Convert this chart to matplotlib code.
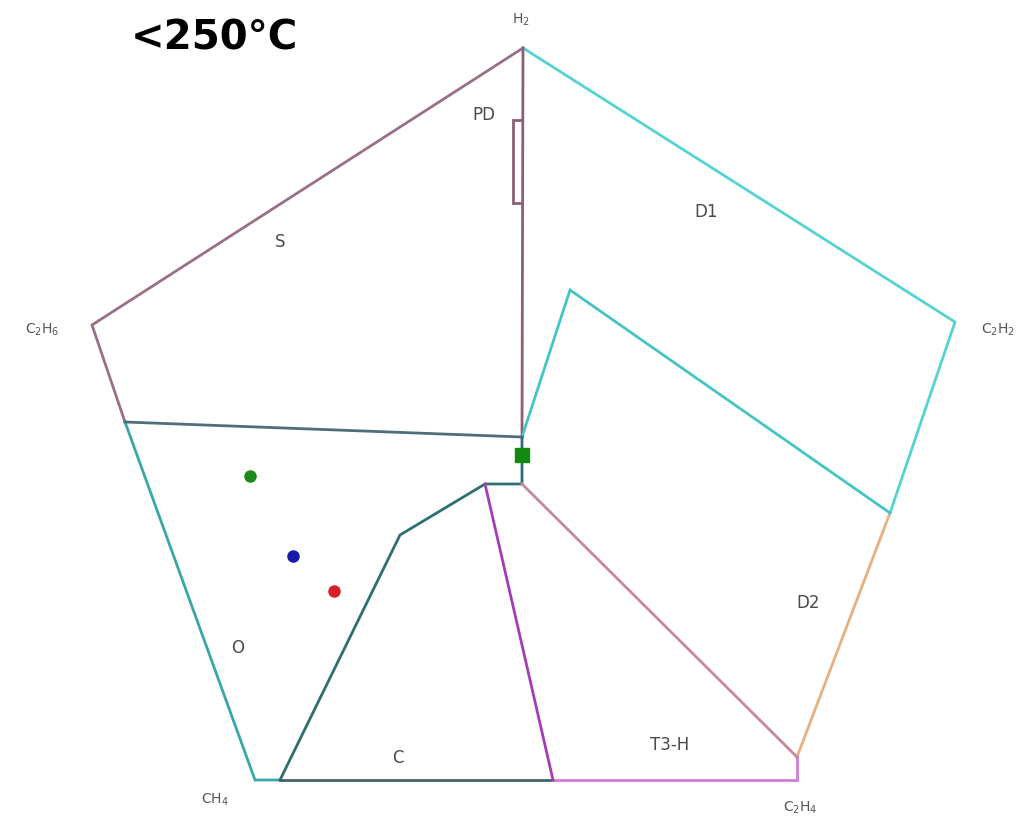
import matplotlib.pyplot as plt

# pixel coordinates (x right, y down)
H2 = (523, 48)
C2H6 = (92, 325)
C2H2 = (955, 322)
CH4 = (255, 780)
C2H4 = (797, 780)

left_mid = (125, 422)      # S / O boundary on left edge
right_mid = (890, 513)     # D1 / D2 boundary on right edge
d2_corner = (797, 757)
center_top = (522, 437)
center_bot = (522, 484)
c_knee1 = (485, 484)
c_knee2 = (400, 535)
c_base = (280, 780)
t3_base = (553, 780)
d1_peak = (570, 290)

# (points, colour)
segments = [
    ([H2, C2H6, left_mid], "#9a7088"),
    ([H2, C2H2, right_mid], "#55d3d3"),
    ([right_mid, d2_corner], "#e8b080"),
    ([left_mid, CH4, c_base], "#3aa7a7"),
    ([c_base, t3_base], "#44606a"),
    ([t3_base, C2H4, d2_corner], "#d27ad6"),
    ([H2, center_top], "#8a6078"),
    ([left_mid, center_top], "#4e6e7a"),
    ([center_top, d1_peak, right_mid], "#45c4c4"),
    ([center_top, center_bot, c_knee1, c_knee2, c_base], "#2f6e70"),
    ([c_knee1, t3_base], "#a43cb8"),
    ([center_bot, d2_corner], "#c8889a"),
    ([(522, 120), (513, 120), (513, 203), (522, 203)], "#8a6078"),
]

zone_names = ["PD", "S", "D1", "D2", "O", "C", "T3-H"]
zone_xy = [(484, 115), (280, 242), (706, 212), (808, 603), (238, 648), (398, 758), (670, 745)]

gas_names = ["H$_2$", "C$_2$H$_6$", "C$_2$H$_2$", "CH$_4$", "C$_2$H$_4$"]
gas_xy = [(521, 20), (42, 330), (998, 330), (215, 800), (800, 808)]

dot_xy = [(250, 476), (293, 556), (334, 591)]
dot_colors = ["#1a8a1a", "#1a1aa8", "#d8202a"]
square_xy = (522, 455)

fig = plt.figure(figsize=(10.25, 8.23), dpi=100)
ax = fig.add_axes([0, 0, 1, 1])
ax.set_xlim(0, 1025)
ax.set_ylim(823, 0)
ax.axis("off")

for pts, col in segments:
    xs = [p[0] for p in pts]
    ys = [p[1] for p in pts]
    ax.plot(xs, ys, color=col, linewidth=2.0, solid_joinstyle="miter")

for name, (x, y) in zip(zone_names, zone_xy):
    ax.text(x, y, name, fontsize=12, color="#4a4a4a", ha="center", va="center")

for name, (x, y) in zip(gas_names, gas_xy):
    ax.text(x, y, name, fontsize=10, color="#555555", ha="center", va="center")

for (x, y), c in zip(dot_xy, dot_colors):
    ax.plot(x, y, "o", color=c, markersize=8)
ax.plot(square_xy[0], square_xy[1], "s", color="#108a10", markersize=10)

ax.text(214, 38, "<250°C", fontsize=29, fontweight="bold", color="black",
        ha="center", va="center")

plt.savefig("out.png", dpi=100)
